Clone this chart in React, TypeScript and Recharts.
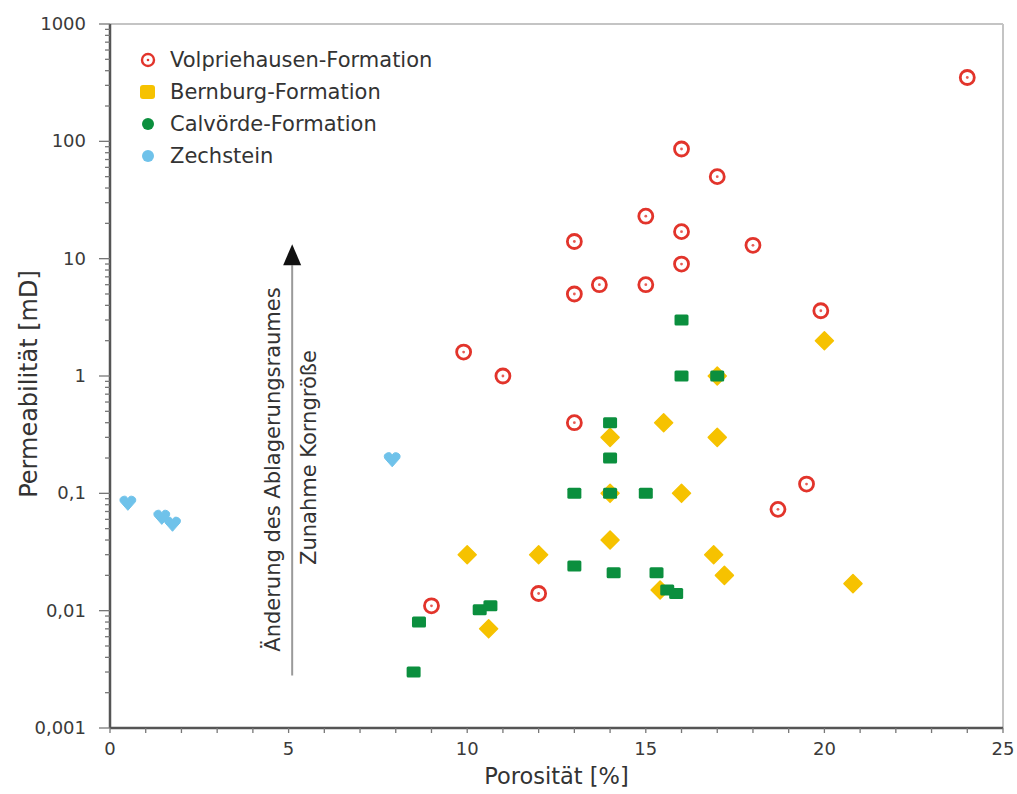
import {
  ScatterChart,
  Scatter,
  XAxis,
  YAxis,
  ReferenceLine,
  ReferenceDot,
} from 'recharts'

// Porosität [%], Permeabilität [mD]
const volpriehausen: [number, number][] = [
  [24, 350], [16, 86], [17, 50], [15, 23], [13, 14], [16, 17], [18, 13],
  [16, 9], [13.7, 6], [13, 5], [15, 6], [19.9, 3.6], [9.9, 1.6], [11, 1],
  [13, 0.4], [19.5, 0.12], [18.7, 0.073], [9, 0.011], [12, 0.014],
]
const bernburg: [number, number][] = [
  [20, 2], [17, 1], [14, 0.3], [15.5, 0.4], [17, 0.3], [14, 0.1], [16, 0.1],
  [14, 0.04], [10, 0.03], [12, 0.03], [16.9, 0.03], [17.2, 0.02],
  [15.4, 0.015], [10.6, 0.007], [20.8, 0.017],
]
const calvoerde: [number, number][] = [
  [16, 3], [16, 1], [17, 1], [14, 0.4], [14, 0.2], [13, 0.1], [14, 0.1],
  [15, 0.1], [13, 0.024], [14.1, 0.021], [15.3, 0.021], [15.6, 0.015],
  [15.85, 0.014], [8.65, 0.008], [10.35, 0.0102], [10.65, 0.011], [8.5, 0.003],
]
const zechstein: [number, number][] = [
  [0.5, 0.083], [1.45, 0.063], [1.75, 0.055], [7.9, 0.195],
]

const yMajor = [0.001, 0.01, 0.1, 1, 10, 100, 1000]
const yMinorFactors = [2, 3, 4, 5, 6, 7, 8, 9]
const xTicks = Array.from({ length: 26 }, (_, i) => i)

const yTicks: number[] = []
yMajor.forEach((m, i) => {
  yTicks.push(m)
  if (i < yMajor.length - 1) yMinorFactors.forEach((f) => yTicks.push(+(m * f).toPrecision(3)))
})

const toPoints = (arr: [number, number][]) => arr.map(([x, y]) => ({ x, y }))

const RED = '#e2342b'
const YELLOW = '#f6c200'
const GREEN = '#0b8f3e'
const BLUE = '#6fc2ea'
const FONT = '"DejaVu Sans", sans-serif'

const fmt = (v: number) => String(v).replace('.', ',')

function YTick({ x, y, payload }: any) {
  const major = yMajor.includes(payload.value)
  return (
    <g>
      <line x1={x} x2={x - (major ? 11 : 5)} y1={y} y2={y} stroke="#777" strokeWidth={1.3} />
      {major && (
        <text x={x - 24} y={y} dy={6} textAnchor="end" fontSize={18} fontFamily={FONT} fill="#3a3a3a">
          {fmt(payload.value)}
        </text>
      )}
    </g>
  )
}

function XTick({ x, y, payload }: any) {
  const major = payload.value % 5 === 0
  return (
    <g>
      <line x1={x} x2={x} y1={y} y2={y + 5} stroke="#777" strokeWidth={1.3} />
      {major && (
        <text x={x} y={y + 27} textAnchor="middle" fontSize={18} fontFamily={FONT} fill="#3a3a3a">
          {payload.value}
        </text>
      )}
    </g>
  )
}

const ringShape = ({ cx, cy }: any) => (
  <g>
    <circle cx={cx} cy={cy} r={7} fill="#fff" stroke={RED} strokeWidth={2.8} />
    <circle cx={cx} cy={cy} r={1.4} fill={RED} fillOpacity={0.8} />
  </g>
)

const diamondShape = ({ cx, cy }: any) => (
  <path
    d={`M${cx},${cy - 9} L${cx + 9},${cy} L${cx},${cy + 9} L${cx - 9},${cy} Z`}
    fill={YELLOW}
    stroke={YELLOW}
    strokeWidth={1.5}
    strokeLinejoin="round"
  />
)

const rectShape = ({ cx, cy }: any) => (
  <rect x={cx - 7} y={cy - 5.5} width={14} height={11} rx={1.5} fill={GREEN} />
)

const heartShape = ({ cx, cy }: any) => (
  <path
    d={`M${cx},${cy + 7.5} L${cx - 7.5},${cy - 1} A3.8,3.8 0 0 1 ${cx},${cy - 4} A3.8,3.8 0 0 1 ${cx + 7.5},${cy - 1} Z`}
    fill={BLUE}
    stroke={BLUE}
    strokeWidth={1}
    strokeLinejoin="round"
  />
)

const arrowHead = ({ cx, cy }: any) => (
  <path d={`M${cx - 9},${cy} L${cx + 9},${cy} L${cx},${cy - 21} Z`} fill="#111" />
)

const arrowText = ({ cx, cy }: any) => (
  <g fontFamily={FONT} fontSize={21} fill="#333">
    <text x={cx - 12} y={cy + 7} textAnchor="middle" transform={`rotate(-90 ${cx - 12} ${cy + 7})`}>
      Änderung des Ablagerungsraumes
    </text>
    <text x={cx + 24} y={cy - 5} textAnchor="middle" transform={`rotate(-90 ${cx + 24} ${cy - 5})`}>
      Zunahme Korngröße
    </text>
  </g>
)

const legendItems = [
  { name: 'Volpriehausen-Formation', kind: 'ring' },
  { name: 'Bernburg-Formation', kind: 'square' },
  { name: 'Calvörde-Formation', kind: 'dot', color: GREEN },
  { name: 'Zechstein', kind: 'dot', color: BLUE },
]

function LegendMarker({ kind, color }: { kind: string; color?: string }) {
  return (
    <svg width={20} height={20} style={{ display: 'block' }}>
      {kind === 'ring' && (
        <g>
          <circle cx={10} cy={10} r={6} fill="#fff" stroke={RED} strokeWidth={2.4} />
          <circle cx={10} cy={10} r={1.3} fill={RED} />
        </g>
      )}
      {kind === 'square' && <rect x={2} y={3} width={15} height={14} rx={3} fill={YELLOW} />}
      {kind === 'dot' && <circle cx={10} cy={10} r={6} fill={color} />}
    </svg>
  )
}

export default function App() {
  return (
    <div style={{ position: 'absolute', left: 0, top: 0, width: 1017, height: 794, background: '#fff' }}>
      <ScatterChart width={1017} height={794} margin={{ top: 24, right: 14, bottom: 0, left: 0 }}>
        <XAxis
          type="number"
          dataKey="x"
          domain={[0, 25]}
          ticks={xTicks}
          interval={0}
          height={66}
          tickSize={0}
          tickMargin={0}
          tickLine={false}
          tick={<XTick />}
          axisLine={{ stroke: '#555', strokeWidth: 2.5 }}
          allowDataOverflow
          label={{
            content: ({ viewBox }: any) => (
              <text
                x={viewBox.x + viewBox.width / 2}
                y={viewBox.y + 56}
                textAnchor="middle"
                fontSize={22.5}
                fontFamily={FONT}
                fill="#333"
              >
                Porosität [%]
              </text>
            ),
          }}
        />
        <YAxis
          type="number"
          dataKey="y"
          scale="log"
          domain={[0.001, 1000]}
          ticks={yTicks}
          interval={0}
          width={110}
          tickSize={0}
          tickMargin={0}
          tickLine={false}
          tick={<YTick />}
          axisLine={{ stroke: '#555', strokeWidth: 2.5 }}
          allowDataOverflow
          label={{
            content: ({ viewBox }: any) => {
              const tx = 37
              const ty = viewBox.y + viewBox.height / 2 + 8
              return (
                <text
                  x={tx}
                  y={ty}
                  textAnchor="middle"
                  fontSize={24}
                  fontFamily={FONT}
                  fill="#333"
                  transform={`rotate(-90 ${tx} ${ty})`}
                >
                  Permeabilität [mD]
                </text>
              )
            },
          }}
        />
        <ReferenceLine y={1000} stroke="#c4c4c4" strokeWidth={2} />
        <ReferenceLine x={25} stroke="#c4c4c4" strokeWidth={2} />
        <ReferenceLine
          segment={[
            { x: 5.1, y: 0.0028 },
            { x: 5.1, y: 8.8 },
          ]}
          stroke="#9a9a9a"
          strokeWidth={2}
        />
        <ReferenceDot x={5.1} y={8.8} shape={arrowHead} />
        <ReferenceDot x={5.1} y={0.183} shape={arrowText} />
        <Scatter name="Zechstein" data={toPoints(zechstein)} shape={heartShape} isAnimationActive={false} />
        <Scatter name="Volpriehausen-Formation" data={toPoints(volpriehausen)} shape={ringShape} isAnimationActive={false} />
        <Scatter name="Bernburg-Formation" data={toPoints(bernburg)} shape={diamondShape} isAnimationActive={false} />
        <Scatter name="Calvörde-Formation" data={toPoints(calvoerde)} shape={rectShape} isAnimationActive={false} />
      </ScatterChart>
      <div style={{ position: 'absolute', left: 138, top: 44, fontFamily: FONT, fontSize: 21, color: '#333' }}>
        {legendItems.map((it) => (
          <div key={it.name} style={{ display: 'flex', alignItems: 'center', height: 32 }}>
            <LegendMarker kind={it.kind} color={it.color} />
            <span style={{ marginLeft: 12 }}>{it.name}</span>
          </div>
        ))}
      </div>
    </div>
  )
}
